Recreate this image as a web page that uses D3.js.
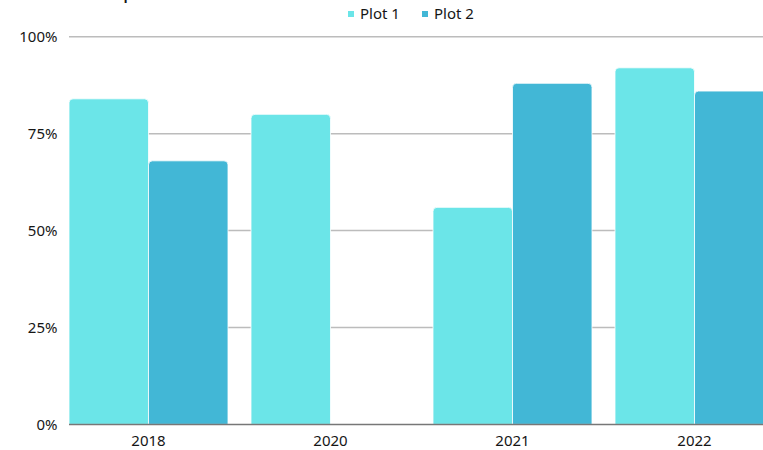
<!DOCTYPE html>
<html>
<head>
<meta charset="utf-8">
<script src="https://cdn.jsdelivr.net/npm/d3@7"></script>
<style>
  html, body { margin: 0; padding: 0; background: #fff; }
  svg { display: block; }
  text { font-family: "Noto Sans", "Open Sans", sans-serif; fill: #161616; }
</style>
</head>
<body>
<svg id="chart" width="763" height="450"></svg>
<script>
// Categories and series
const categories = ["2018", "2020", "2021", "2022"];
const seriesNames = ["Plot 1", "Plot 2"];
const plot1 = [84, 80, 56, 92];
const plot2 = [68, null, 88, 86];
const yTicks = [0, 25, 50, 75, 100];
const colors = ["#6be5e8", "#42b7d6"];

const svg = d3.select("#chart");
const W = 763, H = 450;
const margin = { left: 69, top: 36.8, bottom: 25.6 };

const x = d3.scaleBand()
  .domain(categories)
  .range([margin.left, 774])
  .paddingInner(0.1264)
  .paddingOuter(0)
  .align(0);

const xSub = d3.scaleBand()
  .domain(seriesNames)
  .range([0, x.bandwidth()])
  .padding(0);

const y = d3.scaleLinear()
  .domain([0, 100])
  .range([H - margin.bottom, margin.top]);

// Title (sits above the visible area)
svg.append("text")
  .attr("x", 75)
  .attr("y", -2)
  .style("font-size", "22px")
  .text("Comparison");

// Gridlines
svg.append("g")
  .selectAll("line")
  .data(yTicks.filter(d => d > 0))
  .join("line")
  .attr("x1", margin.left)
  .attr("x2", W)
  .attr("y1", d => y(d))
  .attr("y2", d => y(d))
  .attr("stroke", "#bcbcbc")
  .attr("stroke-width", 1.5);

// Y axis labels
const yAxis = d3.axisLeft(y)
  .tickValues(yTicks)
  .tickFormat(d => d + "%")
  .tickSize(0)
  .tickPadding(11.5);
const yg = svg.append("g")
  .attr("transform", `translate(${margin.left},0)`)
  .call(yAxis);
yg.select(".domain").remove();
yg.selectAll("text")
  .style("font-size", "15px")
  .style("font-family", "'Noto Sans', sans-serif")
  .attr("fill", "#161616");

// Bars with rounded top corners
function topRounded(x0, y0, w, h, r) {
  r = Math.min(r, h, w / 2);
  return `M${x0},${y0 + h}V${y0 + r}Q${x0},${y0} ${x0 + r},${y0}` +
         `H${x0 + w - r}Q${x0 + w},${y0} ${x0 + w},${y0 + r}V${y0 + h}Z`;
}

const rows = [];
categories.forEach((c, i) => {
  [plot1[i], plot2[i]].forEach((v, k) => {
    if (v != null) rows.push({ cat: c, series: seriesNames[k], value: v, k });
  });
});

svg.append("g")
  .selectAll("path")
  .data(rows)
  .join("path")
  .attr("d", d => {
    const bx = x(d.cat) + xSub(d.series);
    const by = y(d.value);
    return topRounded(bx, by, xSub.bandwidth(), y(0) - by, 4);
  })
  .attr("fill", d => colors[d.k])
  .attr("stroke", "#fff")
  .attr("stroke-width", 0.8);

// Baseline and X axis labels
svg.append("line")
  .attr("x1", margin.left)
  .attr("x2", W)
  .attr("y1", y(0))
  .attr("y2", y(0))
  .attr("stroke", "#777")
  .attr("stroke-width", 1.5);

const xAxis = d3.axisBottom(x).tickSize(0).tickPadding(10.5);
const xg = svg.append("g")
  .attr("transform", `translate(0,${y(0)})`)
  .call(xAxis);
xg.select(".domain").remove();
xg.selectAll("text")
  .style("font-size", "15px")
  .style("font-family", "'Noto Sans', sans-serif")
  .attr("fill", "#161616");

// Legend
const legend = svg.append("g");
const legendX = [348, 422];
seriesNames.forEach((name, k) => {
  const g = legend.append("g").attr("transform", `translate(${legendX[k]},14)`);
  g.append("rect").attr("x", 0).attr("y", -3).attr("width", 6).attr("height", 6).attr("fill", colors[k]);
  g.append("text").attr("x", 12).attr("y", 0).attr("dy", "0.35em")
    .style("font-size", "15px").text(name);
});
</script>
</body>
</html>
